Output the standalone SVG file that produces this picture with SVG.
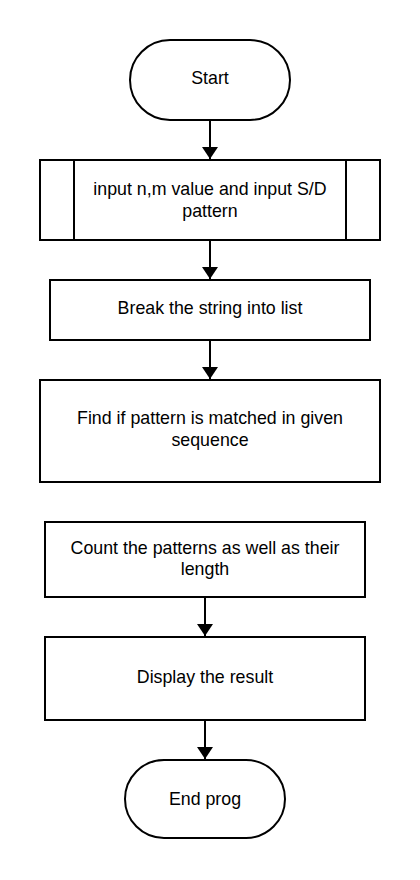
<svg xmlns="http://www.w3.org/2000/svg" width="420" height="880" viewBox="0 0 420 880">
<defs>
<marker id="arr" viewBox="0 0 10 10" refX="10" refY="5" markerWidth="12" markerHeight="16" markerUnits="userSpaceOnUse" orient="auto" preserveAspectRatio="none">
<path d="M0,0 L10,5 L0,10 Z" fill="#000"/>
</marker>
</defs>
<style>
.n{fill:#fff;stroke:#000;stroke-width:2}
.t{font-family:"Liberation Sans",Arial,sans-serif;font-size:17.8px;fill:#000;text-anchor:middle;dominant-baseline:central}
.c{stroke:#000;stroke-width:2;fill:none;marker-end:url(#arr)}
</style>
<rect width="420" height="880" fill="#fff"/>
<g id="connectors">
<line class="c" x1="210" y1="120" x2="210" y2="159"/>
<line class="c" x1="210" y1="240" x2="210" y2="279"/>
<line class="c" x1="210" y1="340" x2="210" y2="379"/>
<line class="c" x1="205" y1="597" x2="205" y2="636"/>
<line class="c" x1="205" y1="720" x2="205" y2="759"/>
</g>
<g id="start">
<rect class="n" x="130" y="40" width="160" height="80" rx="40" ry="40"/>
<text class="t" x="210" y="78">Start</text>
</g>
<g id="input">
<rect class="n" x="40" y="160" width="340" height="80"/>
<line x1="74" y1="160" x2="74" y2="240" stroke="#000" stroke-width="2"/>
<line x1="346" y1="160" x2="346" y2="240" stroke="#000" stroke-width="2"/>
<text class="t" x="210" y="189">input n,m value and input S/D</text>
<text class="t" x="210" y="211">pattern</text>
</g>
<g id="break">
<rect class="n" x="50" y="280" width="320" height="60"/>
<text class="t" x="210" y="308">Break the string into list</text>
</g>
<g id="find">
<rect class="n" x="40" y="380" width="340" height="102"/>
<text class="t" x="210" y="418">Find if pattern is matched in given</text>
<text class="t" x="210" y="440">sequence</text>
</g>
<g id="count">
<rect class="n" x="45" y="522" width="320" height="75"/>
<text class="t" x="205" y="548">Count the patterns as well as their</text>
<text class="t" x="205" y="569">length</text>
</g>
<g id="display">
<rect class="n" x="45" y="637" width="320" height="83"/>
<text class="t" x="205" y="677">Display the result</text>
</g>
<g id="end">
<rect class="n" x="125" y="760" width="160" height="78" rx="39" ry="39"/>
<text class="t" x="205" y="799">End prog</text>
</g>
</svg>
